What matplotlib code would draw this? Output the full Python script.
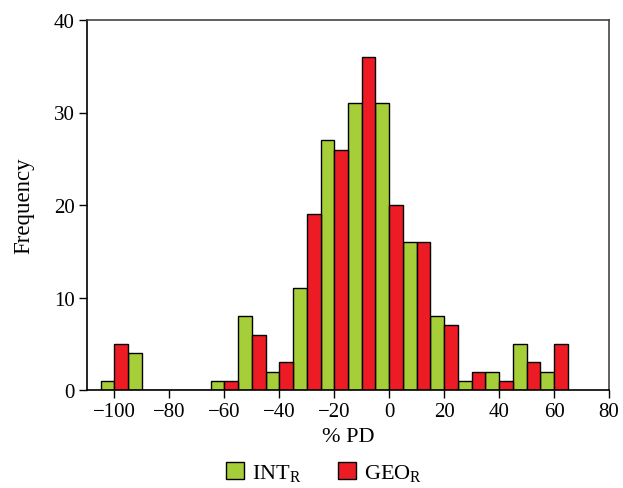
import numpy as np
import matplotlib
matplotlib.use('Agg')
from matplotlib import pyplot as plt
from matplotlib.patches import Patch

plt.rcParams['font.family'] = 'Liberation Serif'
plt.rcParams['mathtext.fontset'] = 'custom'
plt.rcParams['mathtext.rm'] = 'Liberation Serif'

# left edge of each 10-unit group (green bar first, red bar second)
group_left = [-105, -95, -85, -75, -65, -55, -45, -35, -25, -15, -5, 5, 15, 25, 35, 45, 55]
int_r = [1, 4, 0, 0, 1, 8, 2, 11, 27, 31, 31, 16, 8, 1, 2, 5, 2]
geo_r = [5, 0, 0, 0, 1, 6, 3, 19, 26, 36, 20, 16, 7, 2, 1, 3, 5]

green = '#a6ce39'
red = '#ed1c24'

fig = plt.figure(figsize=(6.23, 4.89), dpi=100)
ax = fig.add_axes([87 / 623, 1 - 391 / 489, (609 - 87) / 623, (391 - 21) / 489])

left = np.array(group_left, dtype=float)
ax.bar(left, int_r, width=5, align='edge', color=green, edgecolor='black', linewidth=1.0, zorder=2)
ax.bar(left + 5, geo_r, width=5, align='edge', color=red, edgecolor='black', linewidth=1.0, zorder=2)

ax.set_xlim(-110, 80)
ax.set_ylim(0, 40)
ax.set_xticks(np.arange(-100, 81, 20))
ax.set_xticklabels([('\u2212' + str(-t)) if t < 0 else str(t) for t in range(-100, 81, 20)])
ax.set_yticks([0, 10, 20, 30, 40])

ax.tick_params(direction='out', length=6, width=1, labelsize=15, colors='black', pad=3)
for s in ['top', 'right']:
    ax.spines[s].set_color('#444444')
for s in ax.spines.values():
    s.set_linewidth(1.2)

ax.set_xlabel('% PD', fontsize=16, labelpad=4)
ax.set_ylabel('Frequency', fontsize=16.5, labelpad=14)

handles = [Patch(facecolor=green, edgecolor='black'), Patch(facecolor=red, edgecolor='black')]
fig.legend(handles, ['INT$_\\mathrm{R}$', 'GEO$_\\mathrm{R}$'], loc='center',
           bbox_to_anchor=(0.52, 1 - 474 / 489), ncol=2, frameon=False, fontsize=16,
           handlelength=0.8, handleheight=0.8, handletextpad=0.35, columnspacing=1.65)

fig.savefig('out.png', dpi=100)
